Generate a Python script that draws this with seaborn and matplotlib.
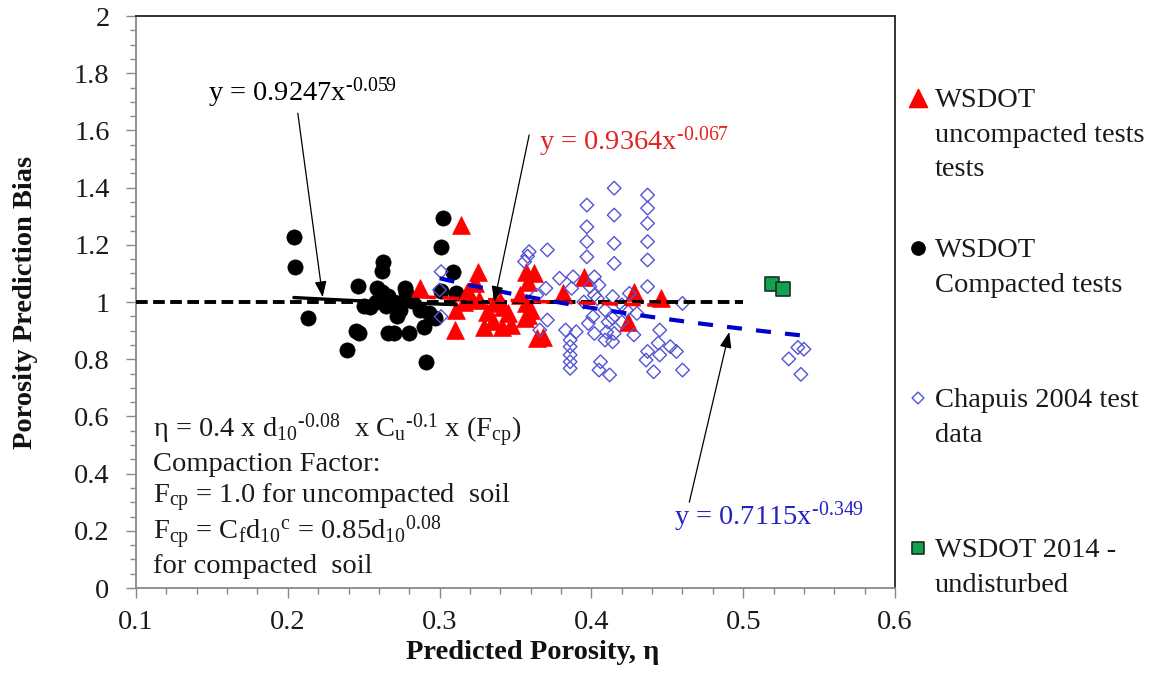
import numpy as np
import pandas as pd
import matplotlib
matplotlib.use("Agg")
import matplotlib.pyplot as plt
from matplotlib.ticker import MultipleLocator, FixedLocator, FixedFormatter
import seaborn as sns

# ---------------- data ----------------
COMP_X = [0.204, 0.205, 0.213, 0.246, 0.247, 0.245, 0.239, 0.263, 0.262, 0.259,
          0.254, 0.266, 0.302, 0.301, 0.309, 0.311, 0.301, 0.277, 0.270, 0.280,
          0.290, 0.291, 0.287, 0.274, 0.266, 0.270, 0.262, 0.258, 0.272, 0.293,
          0.282, 0.265, 0.278, 0.250, 0.297]
COMP_Y = [1.228, 1.123, 0.943, 1.056, 0.890, 0.900, 0.832, 1.141, 1.109, 1.049,
          0.983, 0.890, 1.293, 1.193, 1.106, 1.030, 1.037, 1.048, 0.890, 0.890,
          0.914, 0.791, 0.972, 0.972, 1.020, 1.000, 1.035, 1.000, 0.950, 0.960,
          1.005, 0.985, 1.030, 0.985, 0.945]

UNC_X = [0.314, 0.287, 0.325, 0.323, 0.311, 0.310, 0.326, 0.331, 0.329, 0.336,
         0.342, 0.341, 0.347, 0.321, 0.353, 0.357, 0.362, 0.358, 0.358, 0.357,
         0.368, 0.364, 0.381, 0.360, 0.356, 0.395, 0.428, 0.424, 0.446, 0.316,
         0.340, 0.345, 0.335, 0.318]
UNC_Y = [1.269, 1.048, 1.106, 1.065, 0.972, 0.902, 1.007, 0.966, 0.914, 0.995,
         0.984, 0.914, 0.920, 1.019, 1.024, 1.106, 1.100, 1.071, 0.955, 0.995,
         0.879, 0.873, 1.030, 0.972, 0.943, 1.088, 1.036, 0.931, 1.013, 1.000,
         1.005, 0.960, 0.935, 1.035]

CHAP_X = [0.415, 0.437, 0.437, 0.437, 0.397, 0.397, 0.397, 0.397, 0.415, 0.415,
          0.415, 0.437, 0.437, 0.359, 0.371, 0.356, 0.379, 0.388, 0.370, 0.387,
          0.402, 0.399, 0.405, 0.402, 0.404, 0.414, 0.425, 0.437, 0.460, 0.401,
          0.398, 0.409, 0.414, 0.411, 0.420, 0.402, 0.410, 0.415, 0.409, 0.414,
          0.428, 0.423, 0.445, 0.371, 0.366, 0.383, 0.390, 0.386, 0.386, 0.386,
          0.386, 0.386, 0.406, 0.405, 0.412, 0.437, 0.436, 0.445, 0.452, 0.456,
          0.441, 0.460, 0.444, 0.301, 0.300, 0.301, 0.364, 0.536, 0.530, 0.538,
          0.540, 0.358, 0.395, 0.420, 0.430]
CHAP_Y = [1.398, 1.374, 1.328, 1.275, 1.339, 1.263, 1.211, 1.158, 1.304, 1.205,
          1.135, 1.211, 1.147, 1.176, 1.182, 1.141, 1.083, 1.088, 1.048, 1.048,
          1.088, 1.054, 1.059, 1.024, 1.012, 1.019, 1.030, 1.054, 0.995, 0.949,
          0.925, 0.972, 0.943, 0.930, 0.930, 0.890, 0.895, 0.890, 0.867, 0.861,
          0.885, 0.972, 0.902, 0.937, 0.902, 0.902, 0.896, 0.867, 0.844, 0.815,
          0.791, 0.768, 0.791, 0.762, 0.745, 0.827, 0.797, 0.815, 0.844, 0.827,
          0.756, 0.762, 0.856, 1.106, 1.042, 0.949, 1.024, 0.841, 0.801, 0.747,
          0.835, 1.160, 1.000, 0.990, 0.960]

UND_X = [0.519, 0.526]
UND_Y = [1.062, 1.045]

# reference line (bias = 1)
REF_X = [0.1, 0.5]
REF_Y = [1.0, 1.0]

# power trendlines y = a * x^b (coefficients as printed on the chart)
TREND_COMP = [0.9247, -0.059]
TREND_UNC = [0.9364, -0.067]
TREND_CHAP = [0.7115, -0.349]

X_TICKS = [0.1, 0.2, 0.3, 0.4, 0.5, 0.6]
X_TICK_LABELS = ["0.1", "0.2", "0.3", "0.4", "0.5", "0.6"]
Y_TICKS = [0, 0.2, 0.4, 0.6, 0.8, 1.0, 1.2, 1.4, 1.6, 1.8, 2.0]
Y_TICK_LABELS = ["0", "0.2", "0.4", "0.6", "0.8", "1", "1.2", "1.4", "1.6", "1.8", "2"]

LEGEND_LABELS = [["WSDOT", "uncompacted tests", "tests"],
                 ["WSDOT", "Compacted tests"],
                 ["Chapuis 2004 test", "data"],
                 ["WSDOT 2014 -", "undisturbed"]]

# ---------------- style ----------------
sns.set_theme(style="white")
plt.rcParams["font.family"] = ["Liberation Serif", "DejaVu Serif"]
plt.rcParams["mathtext.fontset"] = "custom"
plt.rcParams["mathtext.rm"] = "Liberation Serif"
plt.rcParams["mathtext.it"] = "Liberation Serif:italic"
plt.rcParams["mathtext.bf"] = "Liberation Serif:bold"
plt.rcParams["mathtext.default"] = "regular"

FS = 20.5
RED = "#ff0000"
BLUE_M = "#5353d6"
BLUE_L = "#0000cc"
BLUE_T = "#2323c0"
RED_T = "#e32222"
GREEN = "#12a14f"

W, H = 1157, 673
fig = plt.figure(figsize=(W / 100, H / 100), dpi=100)
L, R, T, B = 136, 895, 16, 588
ax = fig.add_axes([L / W, 1 - B / H, (R - L) / W, (B - T) / H])

def trend(xs, coef):
    gx = np.linspace(min(xs), max(xs), 60)
    return pd.DataFrame({"x": gx, "y": coef[0] * gx ** coef[1]})

# scatter series
sns.scatterplot(x=COMP_X, y=COMP_Y, ax=ax, marker="o", s=120, color="black",
                edgecolor="black", linewidth=0.5, zorder=3)
sns.scatterplot(x=UNC_X, y=UNC_Y, ax=ax, marker="^", s=165, color=RED,
                edgecolor=RED, linewidth=0.5, zorder=4)
sns.scatterplot(x=CHAP_X, y=CHAP_Y, ax=ax, marker="D", s=48, facecolor="none",
                edgecolor=BLUE_M, linewidth=1.0, zorder=5)
sns.scatterplot(x=UND_X, y=UND_Y, ax=ax, marker="s", s=95, color=GREEN,
                edgecolor="#1b3020", linewidth=1.2, zorder=5)

# lines
sns.lineplot(x=REF_X, y=REF_Y, ax=ax, color="black", lw=2.8,
             linestyle=(0, (3.0, 1.4)), zorder=6)
d = trend(COMP_X, TREND_COMP)
sns.lineplot(data=d, x="x", y="y", ax=ax, color="black", lw=2.4, zorder=6)
d = trend(UNC_X, TREND_UNC)
sns.lineplot(data=d, x="x", y="y", ax=ax, color=RED, lw=2.6,
             linestyle=(0, (4.5, 1.8)), zorder=6)
d = trend(CHAP_X, TREND_CHAP)
sns.lineplot(data=d, x="x", y="y", ax=ax, color=BLUE_L, lw=3.0,
             linestyle=(0, (3.6, 3.4)), zorder=7)

# axes
ax.set_xlim(0.1, 0.6)
ax.set_ylim(0, 2)
ax.xaxis.set_major_locator(FixedLocator(X_TICKS))
ax.xaxis.set_major_formatter(FixedFormatter(X_TICK_LABELS))
ax.yaxis.set_major_locator(FixedLocator(Y_TICKS))
ax.yaxis.set_major_formatter(FixedFormatter(Y_TICK_LABELS))
ax.xaxis.set_minor_locator(MultipleLocator(0.02))
ax.yaxis.set_minor_locator(MultipleLocator(0.05))
ax.tick_params(which="major", direction="out", length=7, width=1.0,
               color="#888888", labelsize=FS, labelcolor="#1a1a1a")
ax.tick_params(which="minor", direction="out", length=4, width=1.0, color="#888888")
ax.tick_params(axis="x", which="both", bottom=True, pad=9)
ax.tick_params(axis="y", which="both", left=True, pad=12)
for s in ["left", "bottom"]:
    ax.spines[s].set_color("#888888")
    ax.spines[s].set_linewidth(1.3)
for s in ["top", "right"]:
    ax.spines[s].set_color("#333333")
    ax.spines[s].set_linewidth(1.4)
ax.grid(False)

ax.set_xlabel("Predicted Porosity, η", fontsize=FS, fontweight="bold", color="#111111")
ax.xaxis.set_label_coords((533 - L) / (R - L), -(640 - B) / (B - T))
ax.xaxis.label.set_va("top")
ax.set_ylabel("Porosity Prediction Bias", fontsize=FS, fontweight="bold", color="#111111")
ax.yaxis.set_label_coords(-(L - 25) / (R - L), 0.5)
ax.yaxis.label.set_va("center")

# trend equations and arrows
ax.text(0.1474, 1.731, r"y = 0.9247x$^{\text{-}0.059}$", fontsize=FS, color="black",
        va="center", ha="left")
ax.text(0.3658, 1.559, r"y = 0.9364x$^{\text{-}0.067}$", fontsize=FS, color=RED_T,
        va="center", ha="left")
ax.text(0.4546, 0.248, r"y = 0.7115x$^{\text{-}0.349}$", fontsize=FS, color=BLUE_T,
        va="center", ha="left")
aprops = dict(arrowstyle="-|>,head_length=0.8,head_width=0.3", color="black",
              lw=0.9, mutation_scale=12, shrinkA=0, shrinkB=0)
ax.annotate("", xy=(0.223, 1.017), xytext=(0.2066, 1.66), arrowprops=aprops, zorder=8)
ax.annotate("", xy=(0.336, 1.0), xytext=(0.359, 1.584), arrowprops=aprops, zorder=8)
ax.annotate("", xy=(0.4908, 0.895), xytext=(0.4645, 0.30), arrowprops=aprops, zorder=8)

# formula block
lines = [r"η = 0.4 x d$_{10}$$^{\text{-}0.08}$  x C$_{u}$$^{\text{-}0.1}$ x (F$_{cp}$)",
         "Compaction Factor:",
         r"F$_{cp}$ = 1.0 for uncompacted  soil",
         r"F$_{cp}$ = C$_{f}$d$_{10}$$^{c}$ = 0.85d$_{10}$$^{0.08}$",
         "for compacted  soil"]
base_y = [0.526, 0.408, 0.297, 0.168, 0.052]
for txt, yy in zip(lines, base_y):
    ax.text(0.1112, yy, txt, fontsize=FS, color="#1a1a1a", ha="left", va="baseline")

# legend (drawn at the right of the plot)
lax = fig.add_axes([0, 0, 1, 1])
lax.set_xlim(0, W)
lax.set_ylim(H, 0)
lax.axis("off")
lax.patch.set_alpha(0)
mk_y = [98, 248, 398, 548]
sns.scatterplot(x=[918], y=[mk_y[0]], ax=lax, marker="^", s=170, color=RED, edgecolor=RED)
sns.scatterplot(x=[918], y=[mk_y[1]], ax=lax, marker="o", s=95, color="black", edgecolor="black")
sns.scatterplot(x=[918], y=[mk_y[2]], ax=lax, marker="D", s=36, facecolor="none",
                edgecolor=BLUE_M, linewidth=1.0)
sns.scatterplot(x=[918], y=[mk_y[3]], ax=lax, marker="s", s=85, color=GREEN,
                edgecolor="#1b3020", linewidth=1.2)
lax.set_xlim(0, W)
lax.set_ylim(H, 0)
for lbls, my in zip(LEGEND_LABELS, mk_y):
    for i, t in enumerate(lbls):
        lax.text(935, my + 9 + i * 34.5, t, fontsize=FS, color="#1a1a1a",
                 ha="left", va="baseline")

fig.savefig("out.png", dpi=100)
